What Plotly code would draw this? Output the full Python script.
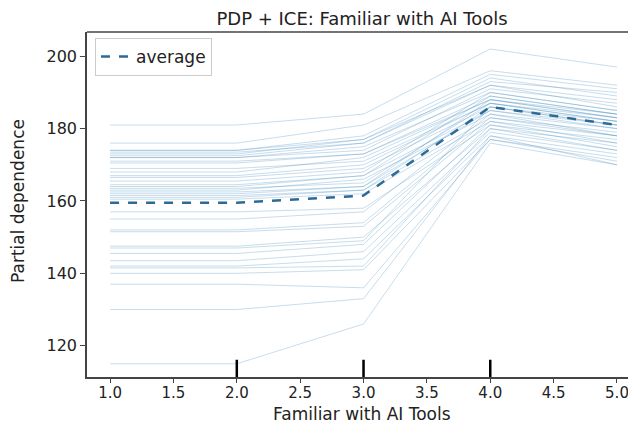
import plotly.graph_objects as go

# Grid values of the feature
grid = [1, 2, 3, 4, 5]

# ICE curves (one per sample), values at grid points 1..5
ice_curves = [
    [181.0, 181.0, 184.0, 202.0, 197.0],
    [176.0, 176.0, 181.0, 196.0, 192.0],
    [174.0, 174.0, 178.0, 195.0, 191.0],
    [173.0, 173.0, 177.0, 194.0, 189.0],
    [172.5, 172.5, 176.0, 192.0, 188.0],
    [172.0, 172.0, 175.0, 190.0, 185.0],
    [170.5, 170.5, 173.0, 189.0, 184.0],
    [168.0, 168.0, 172.0, 188.0, 183.0],
    [167.0, 167.0, 170.0, 187.0, 182.0],
    [166.5, 166.5, 169.0, 186.0, 181.0],
    [164.0, 164.0, 167.0, 185.0, 180.0],
    [163.0, 163.0, 166.0, 184.0, 180.0],
    [162.0, 162.0, 164.0, 185.0, 181.0],
    [161.0, 161.0, 163.0, 183.0, 179.0],
    [160.5, 160.5, 162.0, 182.0, 178.0],
    [157.0, 157.0, 158.0, 181.0, 177.0],
    [155.0, 155.0, 157.0, 184.0, 178.0],
    [152.0, 152.0, 154.0, 183.0, 178.0],
    [151.5, 151.5, 153.0, 182.0, 176.0],
    [147.5, 147.5, 150.0, 180.0, 176.0],
    [147.0, 147.0, 149.0, 186.0, 181.0],
    [145.5, 145.5, 148.0, 181.0, 175.0],
    [143.5, 143.5, 146.0, 179.0, 174.0],
    [142.0, 142.0, 144.0, 178.0, 173.0],
    [141.5, 141.5, 142.0, 180.0, 174.0],
    [140.0, 140.0, 141.0, 177.0, 171.0],
    [137.0, 137.0, 136.0, 177.0, 172.0],
    [130.0, 130.0, 133.0, 178.0, 170.0],
    [115.0, 115.0, 126.0, 176.0, 170.0],
    [173.5, 173.5, 176.0, 193.0, 190.0],
    [172.0, 172.0, 174.0, 191.0, 187.0],
    [171.0, 171.0, 173.0, 188.0, 184.0],
    [174.0, 174.0, 177.0, 192.0, 186.0],
    [163.5, 163.5, 165.0, 187.0, 183.0],
    [162.5, 162.5, 164.0, 188.0, 183.0],
    [161.5, 161.5, 163.0, 186.0, 182.0],
    [164.5, 164.5, 167.0, 189.0, 184.0],
    [165.5, 165.5, 168.0, 190.0, 185.0],
    [169.0, 169.0, 171.0, 187.0, 182.0],
]

# Average (partial dependence)
average = [159.5, 159.5, 161.5, 186.0, 181.0]

# Deciles of the feature (rug marks)
deciles = [2.0, 3.0, 4.0]

x_ticks = [1.0, 1.5, 2.0, 2.5, 3.0, 3.5, 4.0, 4.5, 5.0]
y_ticks = [120, 140, 160, 180, 200]

# page body has an 8px margin; size the figure to fit the visible window
OFF = 8
W, H = 636 - OFF, 427 - OFF
L, R, T, B = 87 - OFF, 0, 32 - OFF, 427 - 377
plot_w = W - L - R
plot_h = H - T - B

fig = go.Figure()

for curve in ice_curves:
    fig.add_trace(go.Scatter(
        x=grid, y=curve, mode="lines",
        line=dict(color="rgba(31,119,180,0.25)", width=1),
        showlegend=False, hoverinfo="skip",
    ))

fig.add_trace(go.Scatter(
    x=grid, y=average, mode="lines", name="average",
    line=dict(color="#2c6b98", width=2.5, dash="dash"),
))

shapes = []
for d in deciles:
    shapes.append(dict(type="line", xref="x", yref="paper", x0=d, x1=d, y0=0, y1=0.05,
                       line=dict(color="black", width=2.5)))
# top spine
shapes.append(dict(type="line", xref="paper", yref="paper", x0=0, x1=1, y0=1, y1=1,
                   line=dict(color="#444444", width=1.5)))

annotations = [
    dict(text="Familiar with AI Tools", xref="paper", yref="paper",
         x=(362 - 87) / plot_w, y=-(414 - 377) / plot_h,
         xanchor="center", yanchor="middle", showarrow=False,
         font=dict(size=17, color="#222222")),
    dict(text="Partial dependence", xref="paper", yref="paper",
         x=-(87 - 18) / plot_w, y=1 - (201 - 32) / plot_h,
         xanchor="center", yanchor="middle", showarrow=False, textangle=-90,
         font=dict(size=17, color="#222222")),
]

fig.update_layout(
    width=W, height=H,
    margin=dict(l=L, r=R, t=T, b=B, autoexpand=False),
    paper_bgcolor="white", plot_bgcolor="white",
    font=dict(family="DejaVu Sans", size=16, color="#222222"),
    title=dict(text="PDP + ICE: Familiar with AI Tools", x=(362 - 87) / plot_w, xref="paper",
               y=1 - 4 / H, yref="container", xanchor="center", yanchor="top",
               pad=dict(t=0, b=0),
               font=dict(size=18, color="#222222")),
    shapes=shapes,
    annotations=annotations,
    legend=dict(x=0.0146, y=0.983, xanchor="left", yanchor="top",
                bordercolor="#cccccc", borderwidth=1, bgcolor="rgba(255,255,255,0.8)",
                font=dict(size=17)),
    showlegend=True,
)

fig.update_xaxes(
    range=[0.818, 5.15], tickvals=x_ticks, ticktext=[f"{v:.1f}" for v in x_ticks],
    showgrid=False, zeroline=False, showline=True, linecolor="#444444", linewidth=1.5,
    ticks="outside", ticklen=4, tickcolor="#444444", automargin=False,
    ticklabelstandoff=-3, tickfont=dict(size=15),
)
fig.update_yaxes(
    range=[111.35, 206.7], tickvals=y_ticks,
    showgrid=False, zeroline=False, showline=True, linecolor="#444444", linewidth=1.5,
    ticks="outside", ticklen=5, tickcolor="#444444", automargin=False,
)

fig.write_html("out.html")
